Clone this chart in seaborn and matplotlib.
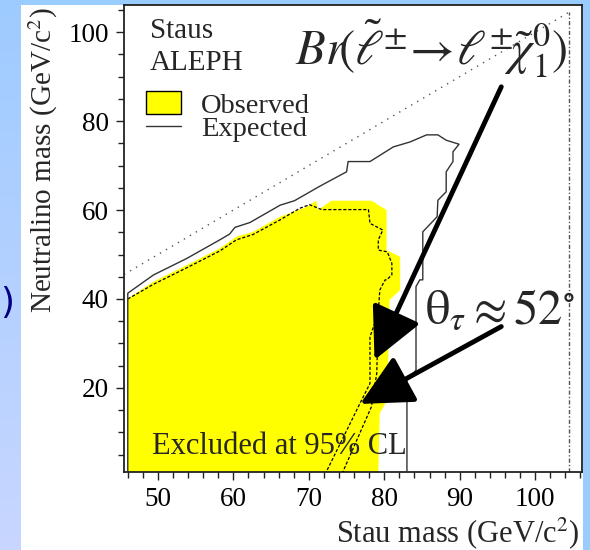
import numpy as np
import pandas as pd
import matplotlib
matplotlib.use("Agg")
import matplotlib.pyplot as plt
from matplotlib.patches import Rectangle, Patch
from matplotlib.lines import Line2D
from matplotlib.ticker import MultipleLocator
from matplotlib.colors import LinearSegmentedColormap
import seaborn as sns

# ---------------- data ----------------
exp_x = [46.0, 46.0, 49.4, 53.8, 58.2, 59.5, 60.2, 62.2, 66.2, 68.1, 71.5, 75.0, 75.2,
         78.1, 81.2, 83.4, 85.6, 87.1, 88.2, 89.9, 89.1, 89.1, 88.2, 88.2, 87.1, 87.0,
         85.1, 85.1, 84.7, 84.2, 84.2, 83.0, 83.0]
exp_y = [1.1, 41.3, 45.4, 49.1, 53.3, 54.6, 56.1, 57.2, 61.1, 62.1, 65.4, 68.6, 70.9,
         70.9, 74.2, 75.3, 76.9, 76.9, 75.7, 74.8, 73.1, 70.9, 68.6, 64.1, 62.2, 58.5,
         55.1, 44.3, 44.3, 42.8, 24.0, 21.8, 1.1]

obs_x = [46.0, 46.0, 49.4, 53.8, 58.2, 60.4, 62.6, 66.2, 69.7, 71.0, 71.2, 73.0, 78.3,
         80.3, 80.3, 82.1, 82.1, 80.7, 80.4, 79.4, 79.2]
obs_y = [1.1, 40.1, 43.9, 47.6, 51.4, 54.0, 55.1, 58.5, 60.7, 62.1, 60.0, 62.1, 62.1,
         60.0, 51.0, 49.5, 42.0, 39.8, 17.3, 14.3, 1.1]

dashA_x = [46.0, 49.4, 53.8, 58.2, 60.4, 62.6, 66.2, 68.8, 70.1, 71.7, 77.9, 78.1, 79.8,
           79.2, 79.2, 80.4, 81.0, 81.0, 80.3, 80.1, 79.4, 79.2, 79.0, 78.3, 74.5]
dashA_y = [40.0, 43.3, 47.0, 50.8, 53.3, 54.5, 57.8, 60.4, 61.2, 60.1, 60.1, 57.0, 55.5,
           53.3, 51.0, 50.6, 48.0, 45.4, 44.3, 44.3, 42.0, 36.8, 23.3, 15.8, 1.1]
dashB_x = [79.2, 78.1, 78.1, 77.0, 72.3]
dashB_y = [36.8, 31.5, 21.0, 17.3, 1.1]

kin_x = [45.5, 104.5]
kin_y = [45.5, 104.5]
lep_x = [104.5, 104.5]
lep_y = [1.1, 104.5]

x_ticks = [50, 60, 70, 80, 90, 100]
y_ticks = [20, 40, 60, 80, 100]

# ---------------- style ----------------
sns.set_theme(style="ticks")
plt.rcParams["font.family"] = ["Liberation Serif", "DejaVu Serif"]
plt.rcParams["mathtext.fontset"] = "stix"

W, H = 590, 550
fig = plt.figure(figsize=(W / 100, H / 100), dpi=100)
fig.patch.set_facecolor("#99CCFF")
fig.patches.append(Rectangle((21 / W, 0), (583 - 21) / W, 545 / H, transform=fig.transFigure,
                             figure=fig, facecolor="white", edgecolor="none", zorder=-5))
# left gradient strip (slide background)
gax = fig.add_axes([0, 0, 21 / W, 1])
grad = np.linspace(0, 1, 256).reshape(-1, 1)
cm = LinearSegmentedColormap.from_list("bg", ["#9ECBFF", "#C8D6FF"])
gax.imshow(grad, aspect="auto", cmap=cm, extent=[0, 1, 0, 1], origin="upper")
gax.axis("off")
fig.text(0.0, (550 - 303) / H, ")", color="#000080", fontsize=26, family="DejaVu Sans",
         ha="left", va="center")

ax = fig.add_axes([124 / W, (H - 472) / H, (582 - 124) / W, (472 - 5) / H])
ax.set_facecolor("white")

# observed exclusion region
ax.fill(obs_x, obs_y, color="#FFFF00", lw=0, zorder=1)
sns.lineplot(x=dashA_x, y=dashA_y, sort=False, estimator=None, color="black", lw=0.9,
             linestyle=(0, (2.5, 1.5)), ax=ax, zorder=3)
sns.lineplot(x=dashB_x, y=dashB_y, sort=False, estimator=None, color="black", lw=0.9,
             linestyle=(0, (2.5, 1.5)), ax=ax, zorder=3)
sns.lineplot(x=exp_x, y=exp_y, sort=False, estimator=None, color="#333333", lw=1.0,
             ax=ax, zorder=3)
sns.lineplot(x=kin_x, y=kin_y, sort=False, estimator=None, color="#555555", lw=1.0,
             linestyle=(0, (1, 4)), ax=ax, zorder=2)
sns.lineplot(x=lep_x, y=lep_y, sort=False, estimator=None, color="#555555", lw=1.0,
             linestyle=(0, (3, 1.5, 1, 1.5)), ax=ax, zorder=2)

ax.set_xlim(45.5, 106.2)
ax.set_ylim(1.1, 106.1)
ax.set_xticks(x_ticks)
ax.set_yticks(y_ticks)
ax.xaxis.set_minor_locator(MultipleLocator(2))
ax.yaxis.set_minor_locator(MultipleLocator(5))
ax.tick_params(which="major", direction="out", length=6, width=1, labelsize=19.5, pad=5,
               color="#222222", labelcolor="black")
ax.tick_params(which="minor", direction="out", length=4, width=1, color="#222222")
for s in ax.spines.values():
    s.set_color("#222222")
    s.set_linewidth(1.3)
    s.set_visible(True)

ax.set_xlabel("Stau mass (GeV/c$^{2}$)", fontsize=22, ha="right", va="center")
ax.xaxis.set_label_coords(0.994, -0.131)
ax.set_ylabel("Neutralino mass (GeV/c$^{2}$)", fontsize=21, ha="right", va="center")
ax.yaxis.set_label_coords(-0.176, 0.995)

# legend
handles = [Patch(facecolor="#FFFF00", edgecolor="black", lw=1.0),
           Line2D([], [], color="#333333", lw=1.0)]
ax.legend(handles, ["Observed", "Expected"], loc="upper left", bbox_to_anchor=(0.048, 0.815),
          frameon=False, fontsize=20.5, handlelength=1.22, handleheight=0.85,
          handletextpad=0.7, labelspacing=-0.12, borderpad=0, borderaxespad=0)

ax.text(0.057, 0.944, "Staus", transform=ax.transAxes, fontsize=21, va="center", ha="left")
ax.text(0.057, 0.876, "ALEPH", transform=ax.transAxes, fontsize=21, va="center", ha="left")
ax.text(49.2, 6.9, "Excluded at 95% CL", fontsize=22, va="center", ha="left", zorder=4)

ax.text(0.670, 0.906,
        r"$Br\!(\tilde{\ell}^{\pm}\!\rightarrow\!\ell^{\pm}\!\tilde{\chi}_{1}^{0})$",
        transform=ax.transAxes, fontsize=35, ha="center", va="center", zorder=6)
ax.text(0.821, 0.345, r"$\mathrm{\theta}_{\tau}\approx 52^{\circ}$",
        transform=ax.transAxes, fontsize=35, ha="center", va="center", zorder=6)

arrow_props = dict(arrowstyle="-|>,head_length=1.6,head_width=0.8", lw=3.5, color="black",
                   mutation_scale=20, shrinkA=0, shrinkB=0)
ax.annotate("", xy=(78.7, 26.3), xytext=(95.5, 87.7), arrowprops=arrow_props, zorder=5)
ax.annotate("", xy=(76.8, 16.4), xytext=(95.5, 33.8), arrowprops=arrow_props, zorder=5)

fig.savefig("out.png", dpi=100, facecolor=fig.get_facecolor())
